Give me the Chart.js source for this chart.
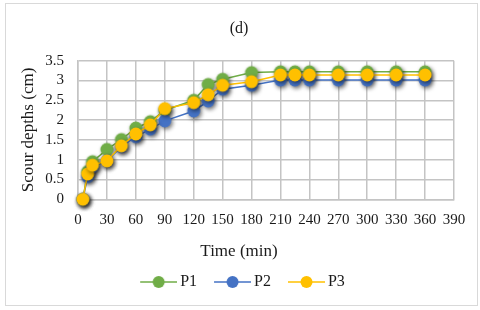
<!DOCTYPE html>
<html><head><meta charset="utf-8">
<script src="https://cdn.jsdelivr.net/npm/chart.js@4/dist/chart.umd.min.js"></script>
<style>html,body{margin:0;padding:0;background:#fff}</style>
</head><body>
<canvas id="c" width="480" height="310" style="width:480px;height:310px;display:block"></canvas>
<script>
const times = [5,10,15,30,45,60,75,90,120,135,150,180,210,225,240,270,300,330,360];
const p1 = [0,0.70,0.95,1.26,1.51,1.80,1.96,2.25,2.50,2.90,3.03,3.20,3.22,3.22,3.22,3.22,3.22,3.22,3.22];
const p2 = [0,0.57,0.82,0.97,1.33,1.58,1.77,1.98,2.23,2.48,2.78,2.88,3.01,3.01,3.01,3.01,3.01,3.01,3.01];
const p3 = [0,0.64,0.86,0.97,1.35,1.65,1.88,2.29,2.44,2.64,2.88,2.97,3.14,3.14,3.14,3.14,3.14,3.14,3.14];
const xTickValues = [0,30,60,90,120,150,180,210,240,270,300,330,360,390];
const yTickValues = [0,0.5,1,1.5,2,2.5,3,3.5];
const seriesNames = ['P1','P2','P3'];
const seriesColors = ['#70AD47','#4472C4','#FFC000'];
const seriesData = [p1,p2,p3];

const FONT = "'Liberation Serif','Times New Roman',serif";
const GRID = '#c4c4c4';
const TXT = '#1a1a1a';

function markerImage(color){
  const c = document.createElement('canvas'); c.width = 26; c.height = 26;
  const g = c.getContext('2d');
  g.shadowColor = 'rgba(0,0,0,0.55)'; g.shadowBlur = 4; g.shadowOffsetX = 1.5; g.shadowOffsetY = 2;
  g.beginPath(); g.arc(13,13,6.5,0,Math.PI*2); g.fillStyle = color; g.fill();
  return c;
}
function legendImage(color){
  const c = document.createElement('canvas'); c.width = 49; c.height = 14;
  const g = c.getContext('2d');
  g.strokeStyle = color; g.lineWidth = 1.5;
  g.beginPath(); g.moveTo(12,7); g.lineTo(49,7); g.stroke();
  g.beginPath(); g.arc(30.5,7,6,0,Math.PI*2); g.fillStyle = color; g.fill();
  return c;
}
const legendImgs = seriesColors.map(legendImage);

const datasets = seriesNames.map((n,i)=>({
  label: n,
  data: times.map((t,j)=>({x:t,y:seriesData[i][j]})),
  borderColor: seriesColors[i],
  backgroundColor: seriesColors[i],
  borderWidth: 1.5,
  pointStyle: markerImage(seriesColors[i]),
  pointRadius: 6.5,
  tension: 0,
  clip: false,
  order: seriesNames.length - i
}));

const frame = {
  id:'frame',
  beforeDraw(chart){
    const ctx = chart.ctx; ctx.save();
    ctx.fillStyle = '#fff'; ctx.fillRect(0,0,chart.width,chart.height);
    ctx.strokeStyle = '#d9d9d9'; ctx.lineWidth = 1;
    ctx.strokeRect(5.5,3.5,472,302);
    ctx.restore();
  }
};

new Chart(document.getElementById('c'), {
  type: 'line',
  data: { datasets },
  plugins: [frame],
  options: {
    responsive: false, animation: false,
    layout: { padding: { left: 18, right: 20, top: 0, bottom: 10 } },
    plugins: {
      tooltip: { enabled: false },
      title: { display: true, text: '(d)', color: TXT, font: { family: FONT, size: 16, weight: 'normal' }, padding: { top: 18.7, bottom: 22.8 } },
      subtitle: { display: true, position: 'bottom', weight: 500, text: 'Time (min)', color: TXT, font: { family: FONT, size: 17, weight: 'normal' }, padding: { top: 6, bottom: 1.8 } },
      legend: {
        position: 'bottom',
        labels: {
          usePointStyle: true, pointStyleWidth: 39, padding: 10, color: TXT,
          font: { family: FONT, size: 16 },
          generateLabels(chart){
            return chart.data.datasets.map((d,i)=>({ text: d.label, pointStyle: legendImgs[i], datasetIndex: i, fillStyle: d.borderColor, strokeStyle: d.borderColor, lineWidth: 0, hidden: false, fontColor: TXT }));
          }
        }
      }
    },
    scales: {
      x: {
        type: 'linear', min: 0, max: 390,
        afterBuildTicks(s){ s.ticks = xTickValues.map(v=>({value:v})); },
        afterFit(s){ s.height = 36.5; },
        grid: { color: GRID, lineWidth: 1.5, drawTicks: false },
        border: { color: GRID, width: 1.5 },
        ticks: { padding: 12, color: TXT, maxRotation: 0, autoSkip: false, font: { family: FONT, size: 15 }, callback: v => String(v) }
      },
      y: {
        min: 0, max: 3.5,
        afterBuildTicks(s){ s.ticks = yTickValues.map(v=>({value:v})); },
        afterFit(s){ s.width = 60; },
        grid: { color: GRID, lineWidth: 1.5, drawTicks: false },
        border: { color: GRID, width: 1.5 },
        ticks: { padding: 14, color: TXT, autoSkip: false, font: { family: FONT, size: 15 }, callback: v => String(v) },
        title: { display: true, text: 'Scour depths (cm)', color: TXT, font: { family: FONT, size: 17 }, padding: { top: 0, bottom: 0 } }
      },
      y2: {
        position: 'right', display: true,
        afterFit(s){ s.width = 6; },
        grid: { display: false, drawTicks: false },
        border: { display: false },
        ticks: { display: false }
      }
    }
  }
});
</script>
</body></html>
